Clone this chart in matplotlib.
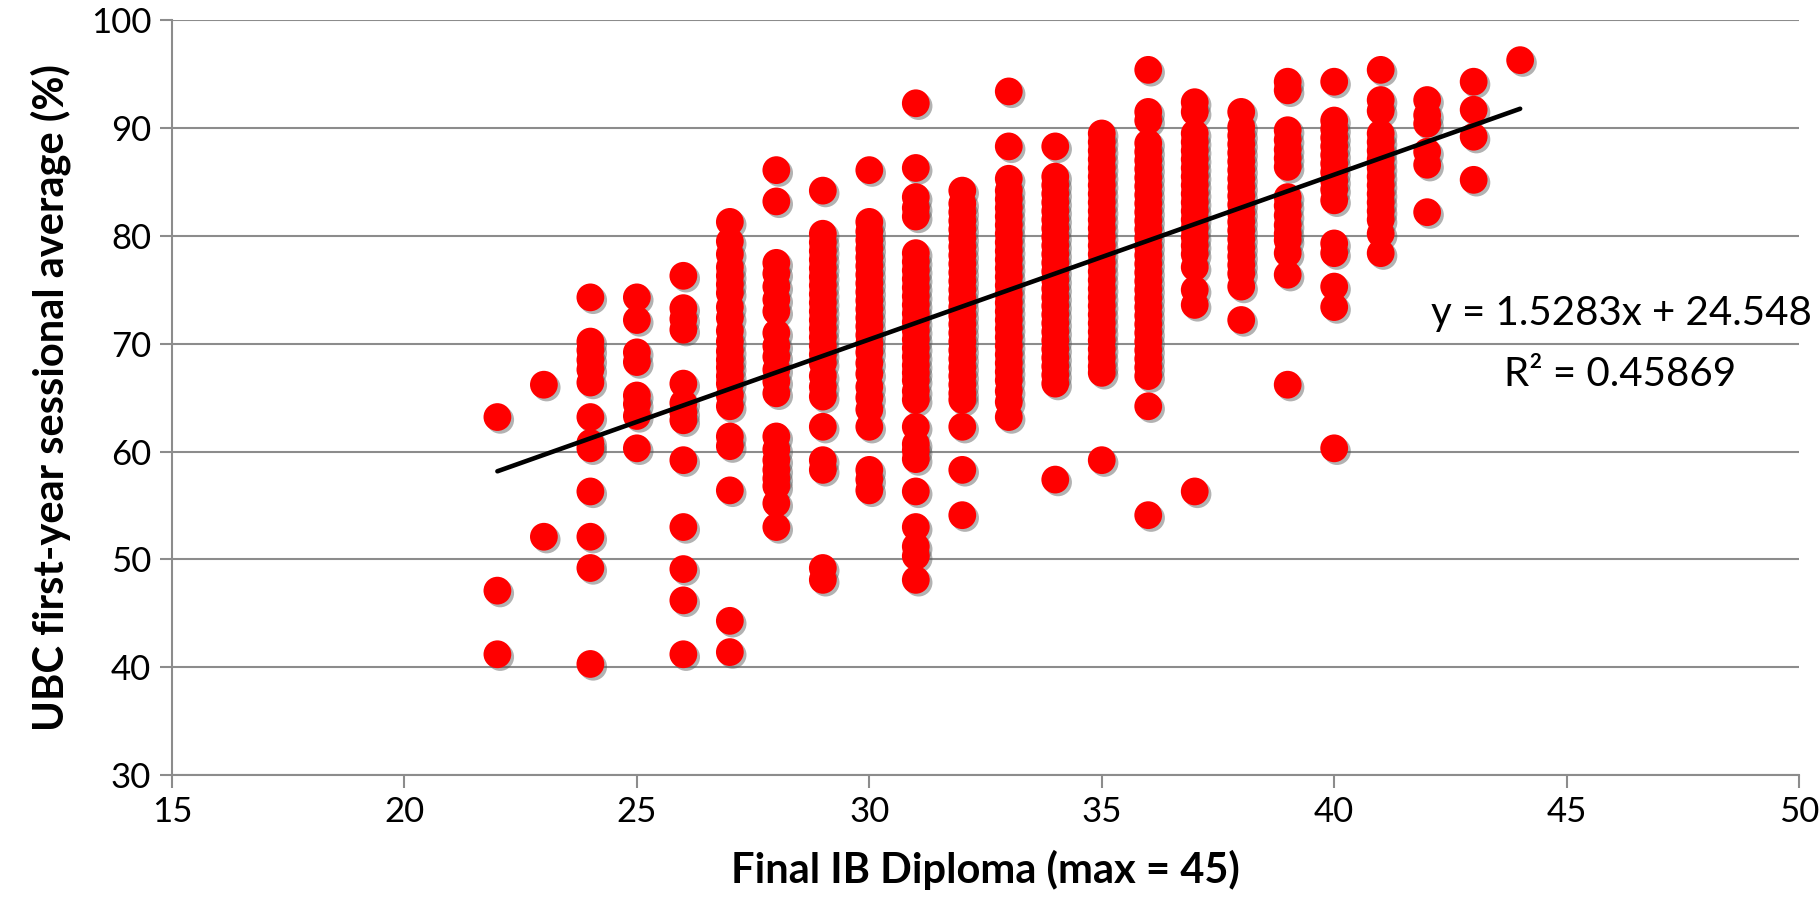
import numpy as np
import matplotlib
matplotlib.use("Agg")
import matplotlib.pyplot as plt
import matplotlib.patheffects as pe

# UBC first-year average (%) for each final IB diploma score
ib22 = [63.2, 47.1, 41.2]
ib23 = [66.2, 52.1]
ib24 = [74.3, 70.2, 69.4, 68.5, 67.6, 66.4, 63.2, 60.8, 60.3, 56.3, 52.1, 49.2, 40.3]
ib25 = [74.3, 72.2, 69.2, 68.3, 65.2, 64.4, 63.3, 60.3]
ib26 = [76.3, 73.3, 72.3, 71.3, 66.3, 64.5, 63.6, 62.9, 59.2, 53.0, 49.1, 46.2, 41.2]
ib27 = [81.3, 79.5, 78.3, 77.1, 76.3, 75.5, 74.7, 73.4, 72.4, 71.2, 70.2, 69.3,
        68.5, 67.8, 67.0, 66.3, 65.2, 64.2, 61.4, 60.5, 56.4, 44.3, 41.4]
ib28 = [86.1, 83.2, 77.5, 76.5, 75.3, 74.1, 73.0, 71.0, 69.8, 68.8, 67.6, 66.5,
        65.4, 61.4, 60.2, 59.2, 58.3, 57.5, 56.8, 55.2, 53.0]
ib29 = [84.2, 80.2, 79.4, 78.6, 77.8, 77.0, 76.2, 75.4, 74.6, 73.8, 73.0, 72.2,
        71.4, 70.6, 69.8, 69.0, 68.2, 67.0, 66.0, 65.1, 62.3, 59.2, 58.3, 49.2, 48.1]
ib30 = [86.1, 81.3, 80.4, 79.6, 78.8, 78.0, 77.2, 76.4, 75.6, 74.8, 74.0, 73.2,
        72.4, 71.6, 70.8, 70.0, 69.2, 68.2, 67.2, 66.0, 65.0, 63.9, 62.3, 58.3,
        57.4, 56.4]
ib31 = [92.3, 86.3, 83.6, 82.6, 81.8, 78.4, 77.6, 76.8, 76.0, 75.2, 74.4, 73.6,
        72.8, 72.0, 71.2, 70.4, 69.6, 68.8, 68.0, 67.3, 66.6, 65.6, 64.8, 62.3,
        60.7, 60.1, 59.3, 56.3, 53.0, 51.2, 50.3, 48.1]
ib32 = [84.2, 83.0, 82.2, 81.4, 80.6, 79.8, 79.0, 78.2, 77.4, 76.6, 75.8, 75.0,
        74.2, 73.4, 72.6, 71.8, 71.0, 70.2, 69.4, 68.6, 67.8, 67.0, 66.2, 65.4,
        64.8, 62.3, 58.3, 54.1]
ib33 = [93.4, 88.3, 85.3, 84.2, 83.4, 82.6, 81.8, 81.0, 80.2, 79.4, 78.6, 77.8,
        77.0, 76.2, 75.4, 74.6, 73.8, 73.0, 72.2, 71.4, 70.6, 69.8, 69.0, 68.2,
        67.4, 66.6, 65.6, 64.6, 63.2]
ib34 = [88.3, 85.5, 84.7, 83.9, 83.1, 82.3, 81.5, 80.7, 79.9, 79.1, 78.3, 77.5,
        76.7, 75.9, 75.1, 74.3, 73.5, 72.7, 71.9, 71.1, 70.3, 69.5, 68.7, 67.9,
        67.1, 66.3, 57.4]
ib35 = [89.5, 88.7, 87.9, 87.1, 86.3, 85.5, 84.7, 83.9, 83.1, 82.3, 81.5, 80.7,
        79.9, 79.1, 78.3, 77.5, 76.7, 75.9, 75.1, 74.3, 73.5, 72.7, 71.9, 71.1,
        70.3, 69.5, 68.7, 67.9, 67.3, 59.2]
ib36 = [95.4, 91.5, 90.7, 88.6, 87.8, 87.0, 86.2, 85.4, 84.6, 83.8, 83.0, 82.2,
        81.4, 80.6, 79.8, 79.0, 78.2, 77.4, 76.6, 75.8, 75.0, 74.2, 73.4, 72.6,
        71.8, 71.0, 70.2, 69.4, 68.6, 67.8, 67.0, 64.2, 54.1]
ib37 = [92.4, 91.5, 89.5, 88.7, 87.9, 87.1, 86.3, 85.5, 84.7, 83.9, 83.1, 82.3,
        81.5, 80.7, 79.9, 79.1, 78.3, 77.1, 75.0, 73.6, 56.3]
ib38 = [91.5, 90.1, 89.3, 88.5, 87.7, 86.9, 86.1, 85.3, 84.5, 83.7, 82.9, 82.1,
        81.3, 80.5, 79.7, 78.9, 78.1, 77.3, 76.5, 75.3, 72.2]
ib39 = [94.3, 93.5, 89.8, 88.9, 88.0, 87.2, 86.4, 83.6, 82.8, 81.9, 81.0, 80.2,
        79.6, 78.4, 76.4, 66.2]
ib40 = [94.3, 90.7, 89.9, 89.1, 88.3, 87.5, 86.7, 85.9, 85.1, 84.3, 83.3, 79.3,
        78.4, 75.3, 73.4, 60.3]
ib41 = [95.4, 92.6, 91.6, 89.5, 88.7, 87.9, 87.1, 86.3, 85.5, 84.7, 83.9, 83.1,
        82.3, 81.5, 80.2, 78.4]
ib42 = [92.6, 91.2, 90.4, 87.8, 86.6, 82.2]
ib43 = [94.3, 91.7, 89.2, 85.2]
ib44 = [96.3]

columns = {22: ib22, 23: ib23, 24: ib24, 25: ib25, 26: ib26, 27: ib27, 28: ib28,
           29: ib29, 30: ib30, 31: ib31, 32: ib32, 33: ib33, 34: ib34, 35: ib35,
           36: ib36, 37: ib37, 38: ib38, 39: ib39, 40: ib40, 41: ib41, 42: ib42,
           43: ib43, 44: ib44}

# trendline as reported on the chart
slope, intercept, r2 = 1.5283, 24.548, 0.45869
fit_x = [22, 44]

xs = []
ys = []
for score, vals in columns.items():
    xs += [score] * len(vals)
    ys += vals

plt.rcParams['font.family'] = ['Lato', 'DejaVu Sans']

fig = plt.figure(figsize=(18.2, 9.21), dpi=100)
ax = fig.add_axes([0.0945, 0.1585, 0.894, 0.8195])

grid_col = "#8c8c8c"
ax.scatter(xs, ys, s=400, color="#ff0000", linewidths=0, zorder=3,
           path_effects=[pe.SimplePatchShadow(offset=(2, -2), shadow_rgbFace="#555555", alpha=0.45),
                         pe.Normal()])

line_y = [slope * v + intercept for v in fit_x]
ax.plot(fit_x, line_y, color="black", lw=3.3, solid_capstyle="round", zorder=4)

ax.set_xlim(15, 50)
ax.set_ylim(30, 100)
ax.set_xticks(range(15, 51, 5))
ax.set_yticks(range(30, 101, 10))
ax.yaxis.grid(True, color=grid_col, lw=1.5)
ax.set_axisbelow(True)

for side in ["top", "right"]:
    ax.spines[side].set_visible(False)
for side in ["left", "bottom"]:
    ax.spines[side].set_color(grid_col)
    ax.spines[side].set_linewidth(1.5)
ax.tick_params(axis="both", direction="out", length=9, width=1.5, color=grid_col,
               labelsize=25, pad=6)

ax.set_xlabel("Final IB Diploma (max = 45)", fontsize=30, fontweight="bold", labelpad=16)
ax.set_ylabel("UBC first-year sessional average (%)", fontsize=30, fontweight="bold", labelpad=14)

ax.text(1431 / 1820, 1 - 313 / 921, f"y = {slope}x + {intercept}", transform=fig.transFigure,
        fontsize=29, va="center", ha="left")
ax.text(1620 / 1820, 1 - 375 / 921, f"R² = {r2}", transform=fig.transFigure,
        fontsize=29, va="center", ha="center")

fig.savefig("out.png", dpi=100)
